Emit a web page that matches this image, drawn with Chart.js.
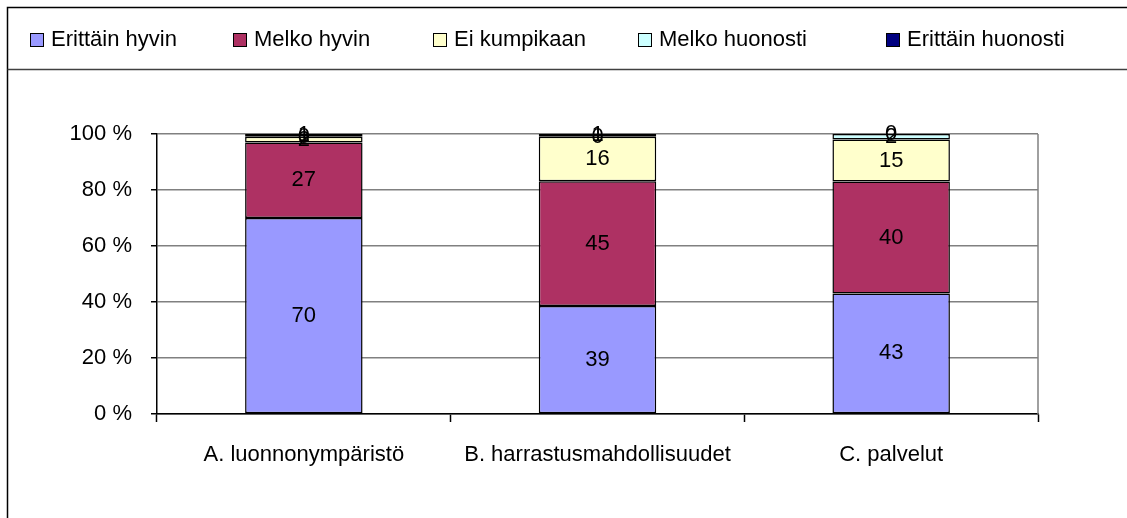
<!DOCTYPE html>
<html>
<head>
<meta charset="utf-8">
<script src="https://cdn.jsdelivr.net/npm/chart.js@4.4.1/dist/chart.umd.min.js"></script>
<style>
  html, body { margin: 0; padding: 0; background: #fff; }
  #wrap { width: 1127px; height: 518px; position: relative; }
</style>
</head>
<body>
<div id="wrap"><canvas id="c" width="1127" height="518"></canvas></div>
<script>
const categories = ['A. luonnonympäristö', 'B. harrastusmahdollisuudet', 'C. palvelut'];
const seriesNames = ['Erittäin hyvin', 'Melko hyvin', 'Ei kumpikaan', 'Melko huonosti', 'Erittäin huonosti'];
const erittainHyvin = [70, 39, 43];
const melkoHyvin = [27, 45, 40];
const eiKumpikaan = [2, 16, 15];
const melkoHuonosti = [0, 0, 2];
const erittainHuonosti = [1, 1, 0];
const yTicks = [0, 20, 40, 60, 80, 100];

const seriesValues = [erittainHyvin, melkoHyvin, eiKumpikaan, melkoHuonosti, erittainHuonosti];
const seriesColors = ['#9999FF', '#AE3163', '#FFFFCC', '#CCFFFF', '#000080'];
const FONT = '"Liberation Sans", Arial, sans-serif';

const totals = categories.map((_, i) => seriesValues.reduce((s, arr) => s + arr[i], 0));

const datasets = seriesNames.map((name, k) => ({
  label: name,
  data: seriesValues[k].map((v, i) => v / totals[i] * 100),
  rawValues: seriesValues[k],
  backgroundColor: seriesColors[k],
  borderColor: '#000',
  borderWidth: 1.5,
  borderSkipped: false,
  barPercentage: 0.4,
  categoryPercentage: 1.0
}));

const frameLegendPlugin = {
  id: 'frameLegend',
  beforeDraw(chart) {
    const ctx = chart.ctx;
    ctx.save();
    ctx.fillStyle = '#fff';
    ctx.fillRect(0, 0, chart.width, chart.height);
    ctx.strokeStyle = '#000';
    ctx.lineWidth = 1.5;
    ctx.beginPath();
    ctx.moveTo(7.5, chart.height + 2);
    ctx.lineTo(7.5, 7.5);
    ctx.lineTo(chart.width + 2, 7.5);
    ctx.stroke();
    ctx.strokeStyle = '#404040';
    ctx.beginPath();
    ctx.moveTo(7.5, 69.5);
    ctx.lineTo(chart.width + 2, 69.5);
    ctx.stroke();
    // legend items
    const xs = [30, 233, 433, 638, 886];
    ctx.font = '22px ' + FONT;
    ctx.textBaseline = 'middle';
    ctx.textAlign = 'left';
    seriesNames.forEach((name, k) => {
      const x = xs[k];
      ctx.fillStyle = seriesColors[k];
      ctx.fillRect(x, 33, 13, 13);
      ctx.strokeStyle = '#000';
      ctx.lineWidth = 1;
      ctx.strokeRect(x + 0.5, 33.5, 13, 13);
      ctx.fillStyle = '#000';
      ctx.fillText(name, x + 21, 40);
    });
    ctx.restore();
  },
  afterDatasetsDraw(chart) {
    const ctx = chart.ctx;
    const a = chart.chartArea;
    ctx.save();
    ctx.strokeStyle = '#808080';
    ctx.lineWidth = 1.5;
    ctx.beginPath();
    ctx.moveTo(a.right, a.top);
    ctx.lineTo(a.right, a.bottom);
    ctx.stroke();
    ctx.font = '22px ' + FONT;
    ctx.fillStyle = '#000';
    ctx.textAlign = 'center';
    ctx.textBaseline = 'middle';
    chart.data.datasets.forEach((ds, di) => {
      const meta = chart.getDatasetMeta(di);
      meta.data.forEach((el, i) => {
        const y = (el.y + el.base) / 2;
        ctx.fillText(String(ds.rawValues[i]), el.x, y);
      });
    });
    ctx.restore();
  }
};

new Chart(document.getElementById('c'), {
  type: 'bar',
  data: { labels: categories, datasets },
  options: {
    responsive: false,
    animation: false,
    devicePixelRatio: 1,
    layout: { padding: { top: 134, right: 89, bottom: 0, left: 0 } },
    plugins: { legend: { display: false }, tooltip: { enabled: false } },
    scales: {
      x: {
        stacked: true,
        offset: true,
        grid: { display: true, drawOnChartArea: false, offset: true, tickLength: 8, tickColor: '#000', tickWidth: 1.5 },
        border: { display: true, color: '#000', width: 1.5 },
        ticks: { color: '#000', font: { family: FONT, size: 22 }, padding: 20, maxRotation: 0 },
        afterFit(s) { s.height = 104; }
      },
      y: {
        stacked: true,
        min: 0,
        max: 100,
        afterBuildTicks(s) {
          const t = [];
          for (let v = 0; v <= 100; v += 10) t.push({ value: v });
          s.ticks = t;
        },
        grid: {
          color: (c) => (c.tick && yTicks.includes(c.tick.value)) ? '#808080' : 'rgba(0,0,0,0)',
          lineWidth: 1.5,
          tickLength: 6,
          tickColor: '#000',
          tickWidth: 1.5
        },
        border: { display: true, color: '#000', width: 1.5 },
        ticks: {
          color: '#000',
          font: { family: FONT, size: 22 },
          padding: 19,
          callback: (v) => yTicks.includes(v) ? v + ' %' : ''
        },
        afterFit(s) { s.width = 157; }
      }
    }
  },
  plugins: [frameLegendPlugin]
});
</script>
</body>
</html>
